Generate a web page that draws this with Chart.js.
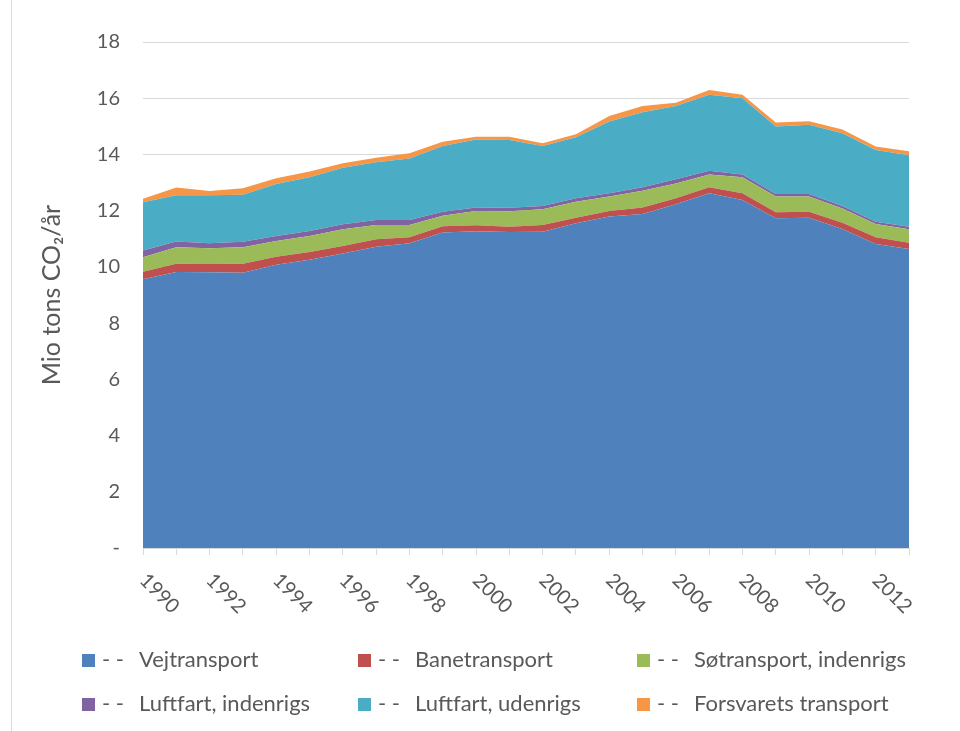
<!DOCTYPE html>
<html>
<head>
<meta charset="utf-8">
<script src="https://cdn.jsdelivr.net/npm/chart.js@4.4.0/dist/chart.umd.min.js"></script>
<style>
  body { margin: 0; background: #fff; }
  #wrap { position: relative; width: 960px; height: 731px; overflow: hidden; }
  #edge { position: absolute; left: 11px; top: 0; width: 1px; height: 731px; background: #d9d9d9; }
  .leg { position: absolute; font-family: Lato, sans-serif; font-size: 22px; color: #595959; white-space: pre; line-height: 26px; }
  .leg i { display: inline-block; width: 13px; height: 13px; vertical-align: 0px; margin-right: 7px; }
  .leg .d { display: inline-block; width: 37px; }
</style>
</head>
<body>
<div id="wrap">
  <canvas id="area-chart" width="960" height="731"></canvas>
  <div id="edge"></div>
  <div id="legend"></div>
</div>
<script>
// Data (Mio tons CO2 per year)
const years = ['1990','1991','1992','1993','1994','1995','1996','1997','1998','1999','2000','2001',
               '2002','2003','2004','2005','2006','2007','2008','2009','2010','2011','2012','2013'];
const xTickLabels = ['1990','1992','1994','1996','1998','2000','2002','2004','2006','2008','2010','2012'];

const vejtransport = [9.56, 9.82, 9.81, 9.79, 10.08, 10.25, 10.48, 10.72, 10.84, 11.22, 11.27, 11.24,
                      11.25, 11.55, 11.79, 11.88, 12.23, 12.62, 12.38, 11.73, 11.75, 11.35, 10.81, 10.64];
const banetransport = [0.27, 0.29, 0.29, 0.32, 0.28, 0.28, 0.26, 0.26, 0.21, 0.23, 0.21, 0.19,
                       0.24, 0.20, 0.20, 0.23, 0.21, 0.21, 0.24, 0.21, 0.21, 0.22, 0.24, 0.22];
const soetransport = [0.51, 0.59, 0.56, 0.59, 0.56, 0.57, 0.60, 0.51, 0.44, 0.37, 0.51, 0.55,
                      0.56, 0.57, 0.51, 0.60, 0.53, 0.46, 0.57, 0.56, 0.54, 0.51, 0.48, 0.48];
const luftIndenrigs = [0.24, 0.20, 0.18, 0.19, 0.18, 0.18, 0.18, 0.18, 0.18, 0.14, 0.12, 0.12,
                       0.12, 0.12, 0.12, 0.12, 0.15, 0.13, 0.10, 0.09, 0.09, 0.09, 0.08, 0.09];
const luftUdenrigs = [1.72, 1.65, 1.71, 1.68, 1.85, 1.91, 2.01, 2.05, 2.19, 2.34, 2.42, 2.41,
                      2.13, 2.17, 2.55, 2.67, 2.60, 2.70, 2.71, 2.40, 2.47, 2.58, 2.55, 2.54];
const forsvaret = [0.12, 0.27, 0.15, 0.23, 0.20, 0.20, 0.16, 0.16, 0.18, 0.15, 0.10, 0.12,
                   0.10, 0.11, 0.20, 0.22, 0.12, 0.17, 0.12, 0.15, 0.12, 0.14, 0.12, 0.14];

const seriesNames = ['Vejtransport', 'Banetransport', 'Søtransport, indenrigs',
                     'Luftfart, indenrigs', 'Luftfart, udenrigs', 'Forsvarets transport'];
const seriesColors = ['#4f81bd', '#c0504d', '#9bbb59', '#8064a2', '#4bacc6', '#f79646'];
const seriesData = [vejtransport, banetransport, soetransport, luftIndenrigs, luftUdenrigs, forsvaret];

const textColor = '#595959';
const gridColor = '#d9d9d9';

// Rotated year labels (down to the right, like Excel)
const yearLabels = {
  id: 'yearLabels',
  afterDraw(chart) {
    const ctx = chart.ctx;
    const xs = chart.scales.x;
    ctx.save();
    ctx.font = '20px Lato, sans-serif';
    ctx.fillStyle = textColor;
    ctx.textAlign = 'left';
    ctx.textBaseline = 'middle';
    xTickLabels.forEach(lbl => {
      const x = xs.getPixelForValue(years.indexOf(lbl));
      ctx.save();
      ctx.translate(x, 577);
      ctx.rotate(Math.PI / 4);
      ctx.fillText(lbl, 0, 0);
      ctx.restore();
    });
    ctx.restore();
  }
};

const chart = new Chart(document.getElementById('area-chart'), {
  type: 'line',
  data: {
    labels: years,
    datasets: seriesData.map((d, i) => ({
      label: seriesNames[i],
      data: d,
      backgroundColor: seriesColors[i],
      borderColor: seriesColors[i],
      borderWidth: 0,
      pointRadius: 0,
      tension: 0,
      fill: i === 0 ? 'origin' : '-1'
    }))
  },
  options: {
    responsive: false,
    animation: false,
    layout: { padding: { top: 42, right: 51, bottom: 0, left: 0 } },
    plugins: { legend: { display: false }, tooltip: { enabled: false } },
    scales: {
      x: {
        offset: false,
        grid: { drawOnChartArea: false, drawTicks: true, tickLength: 7, color: gridColor },
        border: { display: true, color: gridColor },
        ticks: { display: false },
        afterFit: s => { s.height = 731 - 548; }
      },
      y: {
        stacked: true,
        min: 0,
        max: 18,
        grid: { color: gridColor, drawTicks: false },
        border: { display: false },
        ticks: {
          stepSize: 2,
          padding: 23,
          color: textColor,
          font: { family: 'Lato', size: 20 },
          callback: v => v === 0 ? '-' : v
        },
        title: {
          display: true,
          text: 'Mio tons CO₂/år',
          color: textColor,
          font: { family: 'Lato', size: 25 },
          padding: { top: 37, bottom: 0 }
        },
        afterFit: s => { s.width = 143; }
      }
    }
  },
  plugins: [yearLabels]
});

// HTML legend, 3 columns x 2 rows
const legendCols = [82, 358, 637];
const legendRows = [646, 690];
const legend = document.getElementById('legend');
chart.data.datasets.forEach((ds, i) => {
  const item = document.createElement('div');
  item.className = 'leg';
  item.style.left = legendCols[i % 3] + 'px';
  item.style.top = legendRows[Math.floor(i / 3)] + 'px';
  item.innerHTML = '<i style="background:' + ds.backgroundColor + '"></i><span class="d">- -</span>' + ds.label;
  legend.appendChild(item);
});
</script>
</body>
</html>
